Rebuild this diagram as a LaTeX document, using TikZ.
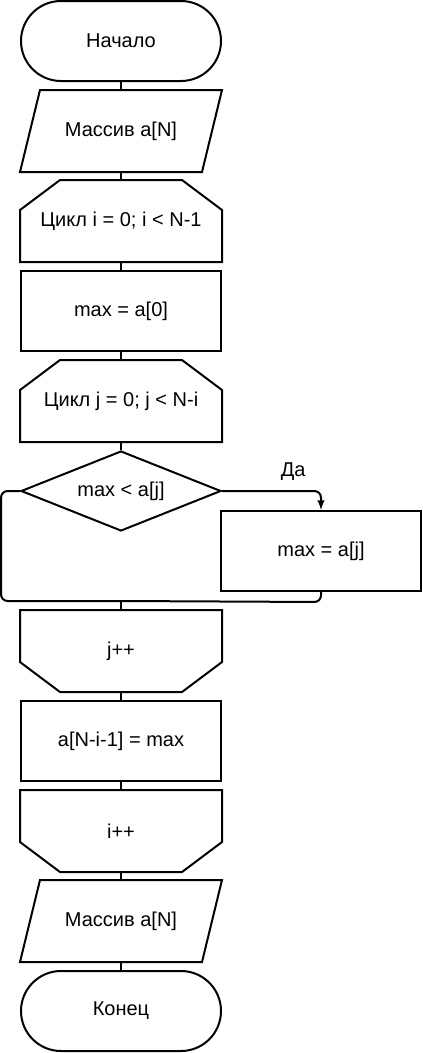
\documentclass[tikz,border=0pt]{standalone}
\usepackage{fontspec}
\setmainfont{Liberation Sans}
\usetikzlibrary{shapes.geometric, calc}
\begin{document}
\begin{tikzpicture}[x=0.75pt, y=-0.75pt, line width=1.5pt,
		txt/.style={font=\fontsize{15}{18}\selectfont, inner sep=0pt},
		term/.style={txt, draw, rounded corners=30pt, minimum width=150pt, minimum height=60pt},
		proc/.style={txt, draw, minimum width=150pt, minimum height=60pt},
		cond/.style={txt, draw, diamond, aspect=2.5, minimum width=150pt, minimum height=60pt},
		blank/.style={txt, minimum width=150pt, minimum height=60pt}]
		    \useasboundingbox (0,0) rectangle (423,1053);
		    \node[term] (start) at (121, 41) {Начало};
		    \node[blank] (in) at (121, 131) {Массив a[N]};
		    \node[blank] (loopi) at (121, 221) {Цикл i = 0; i < N-1};
		    \node[proc] (init) at (121, 311) {max = a[0]};
		    \node[blank] (loopj) at (121, 401) {Цикл j = 0; j < N-i};
		    \node[cond] (cmp) at (121, 491) {max < a[j]};
		    \node[proc] (set) at (321, 551) {max = a[j]};
		    \node[blank] (endj) at (121, 651) {j++};
		    \node[proc] (store) at (121, 741) {a[N-i-1] = max};
		    \node[blank] (endi) at (121, 831) {i++};
		    \node[blank] (out) at (121, 921) {Массив a[N]};
		    \node[term] (stop) at (121, 1011) {Конец};
		    \coordinate (mrg) at (121, 601);

		    % parallelograms
		    \foreach \n in {in, out} {
		       \draw (\n.south west) -- ($(\n.north west)+(20,0)$) -- (\n.north east)
		          -- ($(\n.south east)+(-20,0)$) -- cycle;
		    }
		    % loop start / loop end
		    \foreach \n in {loopi, loopj} {
		       \draw (\n.south west) -- ($(\n.north west)+(0,30)$) -- ($(\n.north west)+(40,0)$)
		          -- ($(\n.north east)+(-40,0)$) -- ($(\n.north east)+(0,30)$) -- (\n.south east) -- cycle;
		    }
		    \foreach \n in {endj, endi} {
		       \draw (\n.north west) -- ($(\n.south west)+(0,-30)$) -- ($(\n.south west)+(40,0)$)
		          -- ($(\n.south east)+(-40,0)$) -- ($(\n.south east)+(0,-30)$) -- (\n.north east) -- cycle;
		    }

		    \draw (start) -- (in);
		    \draw (in) -- (loopi);
		    \draw (loopi) -- (init);
		    \draw (init) -- (loopj);
		    \draw (loopj) -- (cmp);
		    \draw[-latex, rounded corners=5pt] (cmp.east) -- (set.north |- cmp.east)
		       node[pos=0.72, above=7pt, txt] (yes) {Да} -- (set.north);
		    \draw[rounded corners=5pt] (set.south) -- ($(set.south)+(0,10)$) -- (mrg);
		    \draw[rounded corners=5pt] (cmp.west) -- (1, 491) -- (1, 601) -- (mrg);
		    \draw (mrg) -- (endj);
		    \draw (endj) -- (store);
		    \draw (store) -- (endi);
		    \draw (endi) -- (out);
		    \draw (out) -- (stop);
		\end{tikzpicture}
\end{document}
